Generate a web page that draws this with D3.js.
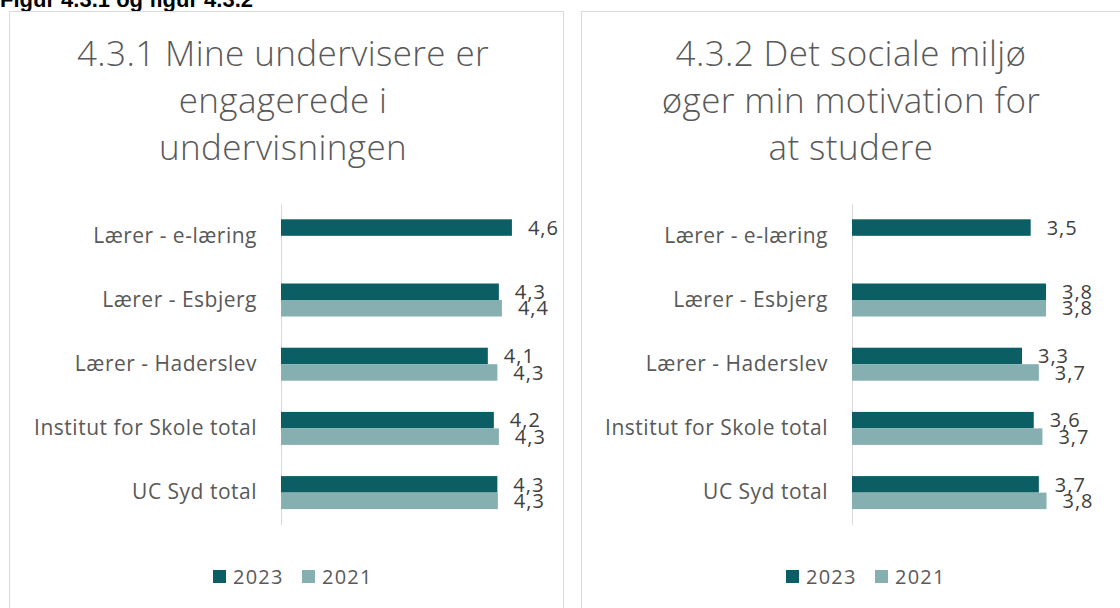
<!DOCTYPE html>
<html>
<head>
<meta charset="utf-8">
<script src="https://cdn.jsdelivr.net/npm/d3@7"></script>
<style>
    body { margin: 0; background: #fff; }
    svg { display: block; font-family: 'Open Sans', Lato, sans-serif; }
</style>
</head>
<body>
<div id="canvas"></div>
<script>
const categories = ['Lærer - e-læring', 'Lærer - Esbjerg', 'Lærer - Haderslev', 'Institut for Skole total', 'UC Syd total'];
const years = ['2023', '2021'];
const engaged2023 = [4.6, 4.34, 4.12, 4.24, 4.31];
const engaged2021 = [null, 4.4, 4.31, 4.34, 4.32];
const social2023 = [3.5, 3.8, 3.33, 3.56, 3.66];
const social2021 = [null, 3.8, 3.66, 3.73, 3.81];
const engagedTitle = ['4.3.1 Mine undervisere er', 'engagerede i', 'undervisningen'];
const socialTitle = ['4.3.2 Det sociale miljø', 'øger min motivation for', 'at studere'];

const colors = { '2023': '#0b5e63', '2021': '#85afb1' };
const fmt = v => d3.format('.1f')(v).replace('.', ',');

const svg = d3.select('#canvas').append('svg')
    .attr('width', 1120)
    .attr('height', 608);

svg.append('text')
    .attr('x', 0)
    .attr('y', 7)
    .style('font-family', 'Liberation Sans, Arial, sans-serif')
    .style('font-weight', 'bold')
    .style('font-size', '22px')
    .attr('fill', '#000')
    .text('Figur 4.3.1 og figur 4.3.2');

function drawPanel(opts) {
    const g = svg.append('g');

    g.append('rect')
        .attr('x', opts.left + 0.5)
        .attr('y', 11.5)
        .attr('width', opts.width)
        .attr('height', 620)
        .attr('fill', '#fff')
        .attr('stroke', '#d9d9d9');

    g.append('text')
        .attr('text-anchor', 'middle')
        .style('font-size', '35px')
        .style('font-weight', 300)
        .style('letter-spacing', '0.4px')
        .attr('fill', '#595959')
        .selectAll('tspan')
        .data(opts.title)
        .join('tspan')
            .attr('x', opts.titleX)
            .attr('y', (d, i) => 66 + i * 47)
            .text(d => d);

    const x = d3.scaleLinear()
        .domain([0, opts.max])
        .range([opts.axisX, opts.axisX + opts.max * opts.unit]);

    const y = d3.scaleBand()
        .domain(categories)
        .range([203.7, 524.7])
        .paddingInner(0.486)
        .paddingOuter(0.243);

    const inner = d3.scaleBand()
        .domain(years)
        .range([0, y.bandwidth()]);

    const axis = g.append('g')
        .attr('transform', 'translate(' + opts.axisX + ',0)')
        .call(d3.axisLeft(y).tickSize(0).tickPadding(24));
    axis.select('.domain').attr('stroke', '#d9d9d9');
    axis.selectAll('text')
        .style('font-family', "'Open Sans', sans-serif")
        .style('font-size', '21px')
        .style('letter-spacing', '0.5px')
        .attr('fill', '#595959');

    const rows = categories.map((c, i) => [
        { cat: c, year: '2023', value: opts.s2023[i] },
        { cat: c, year: '2021', value: opts.s2021[i] }
    ]).flat().filter(d => d.value != null);

    g.selectAll('rect.bar')
        .data(rows)
        .join('rect')
            .attr('class', 'bar')
            .attr('x', x(0))
            .attr('y', d => y(d.cat) + inner(d.year))
            .attr('width', d => x(d.value) - x(0))
            .attr('height', inner.bandwidth())
            .attr('fill', d => colors[d.year]);

    g.selectAll('text.val')
        .data(rows)
        .join('text')
            .attr('class', 'val')
            .attr('x', d => x(d.value) + 16)
            .attr('y', d => y(d.cat) + inner(d.year) + inner.bandwidth() / 2)
            .attr('dy', '0.36em')
            .style('font-size', '20px')
            .style('letter-spacing', '1px')
            .attr('fill', '#404040')
            .text(d => fmt(d.value));

    const legend = g.append('g')
        .selectAll('g')
        .data(years)
        .join('g')
            .attr('transform', (d, i) => 'translate(' + (opts.legendX + i * 89) + ',570)');
    legend.append('rect')
        .attr('width', 13)
        .attr('height', 13)
        .attr('fill', d => colors[d]);
    legend.append('text')
        .attr('x', 20)
        .attr('y', 6.5)
        .attr('dy', '0.36em')
        .style('font-size', '20px')
        .style('letter-spacing', '1.2px')
        .attr('fill', '#595959')
        .text(d => d);
}

drawPanel({ left: 9, width: 554, title: engagedTitle, titleX: 283, axisX: 281, max: 5, unit: 50.2,
            s2023: engaged2023, s2021: engaged2021, legendX: 213 });
drawPanel({ left: 581, width: 560, title: socialTitle, titleX: 851, axisX: 852, max: 4.5, unit: 51.05,
            s2023: social2023, s2021: social2021, legendX: 786 });
</script>
</body>
</html>
